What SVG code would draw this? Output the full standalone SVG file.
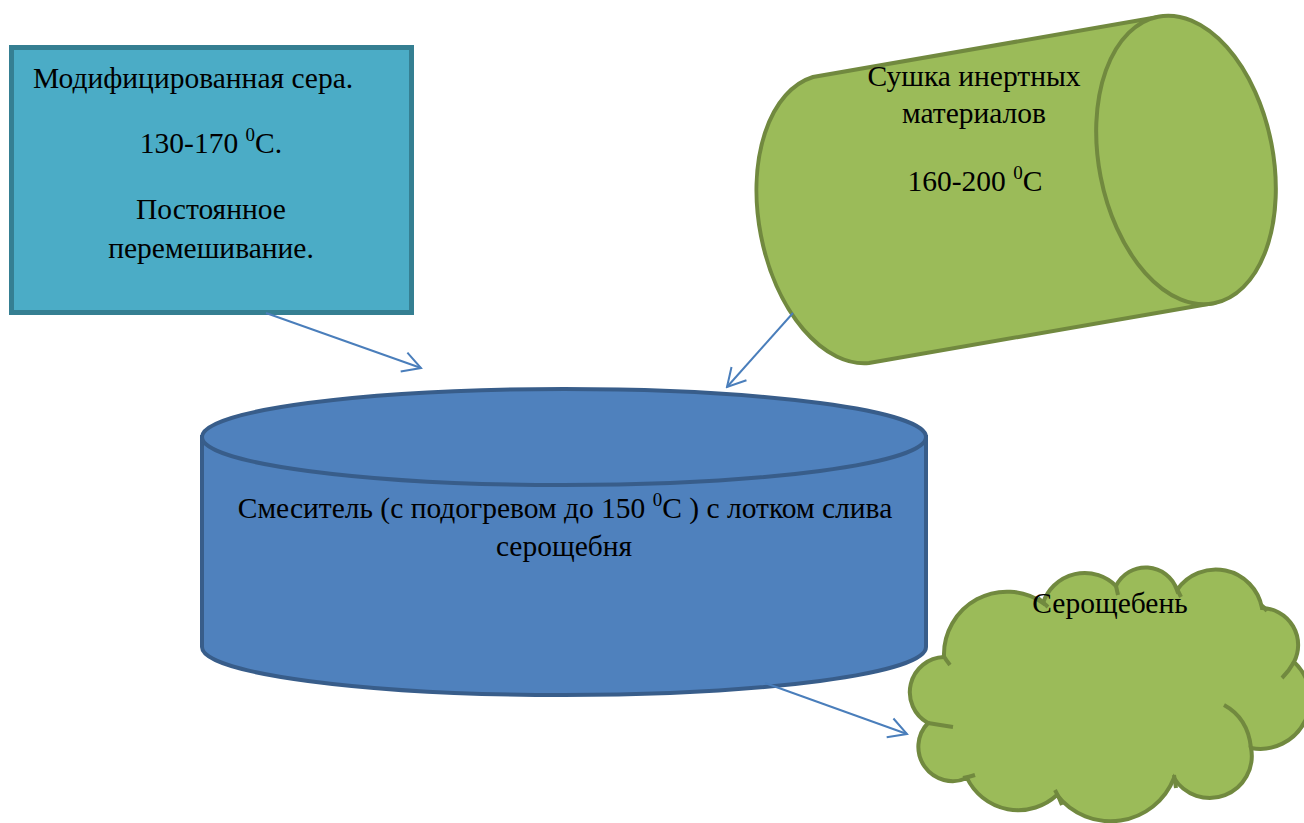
<svg xmlns="http://www.w3.org/2000/svg" width="1304" height="823" viewBox="0 0 1304 823">
<style>
.t{font-family:"Liberation Serif","Times New Roman",serif;font-size:29.5px;fill:#000}
.c{text-anchor:middle}
.green{fill:#9BBB59;stroke:#71893F;stroke-width:4}
.blue{fill:#4F81BD;stroke:#385D8A;stroke-width:4}
.teal{fill:#4BACC6;stroke:#357F92;stroke-width:5}
.inner{fill:none;stroke:#71893F;stroke-width:4}
.conn{fill:none;stroke:#4A7EBB;stroke-width:2}
</style>
<defs>
<marker id="arr" viewBox="-20 -12 22 24" refX="0" refY="0" markerWidth="22" markerHeight="24" markerUnits="userSpaceOnUse" orient="auto">
<path d="M-18,-10 L0,0 L-18,10" fill="none" stroke="#4A7EBB" stroke-width="2"/>
</marker>
</defs>
<rect width="1304" height="823" fill="#fff"/>

<g id="sulfur">
<rect class="teal" x="11.5" y="47.5" width="400" height="265"/>
<text class="t" x="33" y="88">Модифицированная сера.</text>
<text class="t c" x="211" y="153">130-170 <tspan font-size="19" dy="-12">0</tspan><tspan dy="12">C.</tspan></text>
<text class="t c" x="211" y="219">Постоянное</text>
<text class="t c" x="211" y="258">перемешивание.</text>
</g>

<g id="dryer">
<path class="green" d="M1158,17 L813,77 A87 146 -11 0 0 869,363 L1214,303 A87 146 -11 0 0 1158,17 Z"/>
<ellipse class="green" cx="1186" cy="160" rx="87" ry="146" transform="rotate(-11 1186 160)"/>
<text class="t c" x="974" y="86">Сушка инертных</text>
<text class="t c" x="974" y="123">материалов</text>
<text class="t c" x="975" y="191">160-200 <tspan font-size="19" dy="-12">0</tspan><tspan dy="12">C</tspan></text>
</g>

<g id="mixer">
<path class="blue" d="M202,437 L202,647 A362 48 0 0 0 926,647 L926,437 Z"/>
<ellipse class="blue" cx="564" cy="437" rx="362" ry="48"/>
<text class="t c" x="565" y="518">Смеситель (с подогревом до 150 <tspan font-size="19" dy="-12">0</tspan><tspan dy="12">C ) с лотком слива</tspan></text>
<text class="t c" x="564" y="556">серощебня</text>
</g>

<g id="product">
<path class="green" d="M944,657 A63 63 0 0 1 1043,603 A44 44 0 0 1 1116,586 A33 33 0 0 1 1177,590 A47 47 0 0 1 1262,608 A37 37 0 0 1 1294,662 A50 50 0 0 1 1251,748 A42 42 0 0 1 1174,778 A68 68 0 0 1 1057,795 A57 57 0 0 1 967,778 A34.3 34.3 0 0 1 928,723 A35.2 35.2 0 0 1 944,657 Z"/>
<path class="inner" d="M943,655 Q946,660 950,665 M928,723 Q940,725 953,727 M963,778 Q969,777 975,775 M1062,805 Q1059,797 1055,790 M1174,775 L1176,788 M1224,705 Q1248,718 1251,748 M1294,662 Q1289,671 1282,678 M1261,605 Q1264,607 1267,611 M1177,589 Q1179,593 1181,597 M1116,586 L1118,595 M1038,598 Q1043,602 1048,607"/>
<text class="t c" x="1110" y="613">Серощебень</text>
</g>

<g id="connectors">
<line class="conn" x1="266" y1="313" x2="421" y2="368" marker-end="url(#arr)"/>
<line class="conn" x1="793" y1="313" x2="727" y2="387" marker-end="url(#arr)"/>
<line class="conn" x1="765" y1="683" x2="907" y2="734" marker-end="url(#arr)"/>
</g>
</svg>
